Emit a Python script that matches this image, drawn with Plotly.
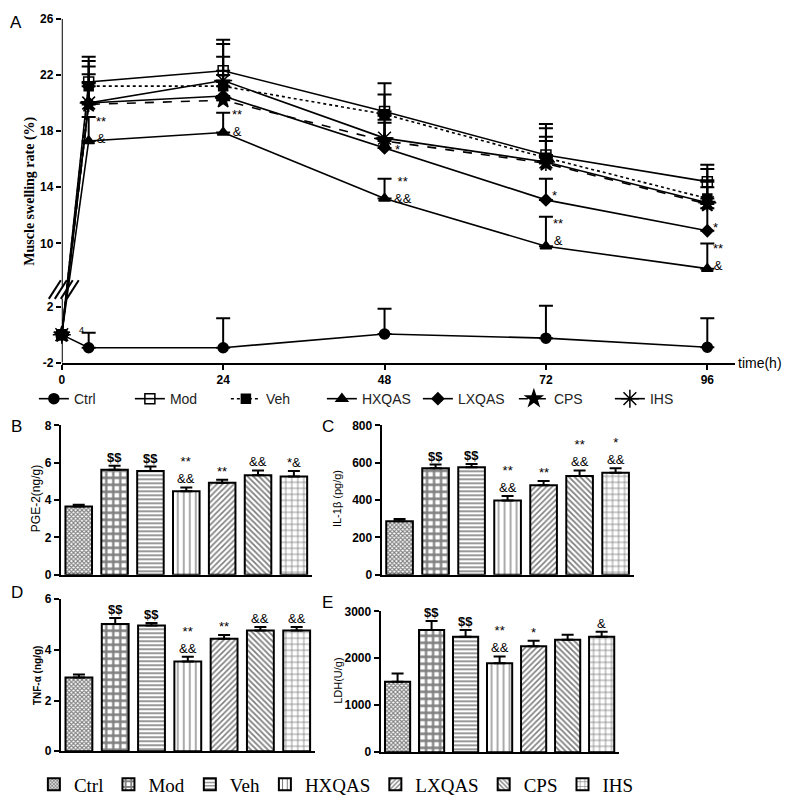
import plotly.graph_objects as go

W, H = 792, 807
def px(x): return x / W
def py(y): return 1 - y / H

# ---------------- Panel A data ----------------
times = [0, 4, 24, 48, 72, 96]
series_names = ["Ctrl", "Mod", "Veh", "HXQAS", "LXQAS", "CPS", "IHS"]
ctrl_a = [0, -0.93, -0.93, 0.05, -0.25, -0.9]
ctrl_a_err = [0, 1.06, 2.1, 1.8, 2.3, 2.06]
mod_a = [0, 21.5, 22.3, 19.4, 16.3, 14.4]
mod_a_err = [0, 1.8, 2.2, 2.0, 2.2, 1.2]
veh_a = [0, 21.2, 21.2, 19.2, 16.1, 13.2]
veh_a_err = [0, 1.8, 3.0, 1.4, 2.1, 2.1]
hx_a = [0, 17.3, 17.9, 13.2, 9.8, 8.2]
hx_a_err = [0, 1.7, 1.4, 1.4, 2.1, 1.8]
lx_a = [0, 20.0, 20.5, 16.8, 13.1, 10.9]
lx_a_err = [0, 2.05, 1.5, 1.8, 1.5, 1.6]
cps_a = [0, 19.9, 20.2, 17.3, 15.7, 12.8]
cps_a_err = [0, 1.5, 1.3, 1.5, 1.6, 1.2]
ihs_a = [0, 20.0, 21.6, 17.5, 15.8, 12.9]
ihs_a_err = [0, 2.6, 1.7, 1.6, 1.8, 1.6]
a_values = [ctrl_a, mod_a, veh_a, hx_a, lx_a, cps_a, ihs_a]
a_errors = [ctrl_a_err, mod_a_err, veh_a_err, hx_a_err, lx_a_err, cps_a_err, ihs_a_err]

# significance marks in panel A
a_sig_series = ["HXQAS", "HXQAS", "HXQAS", "LXQAS", "HXQAS", "LXQAS", "HXQAS", "LXQAS"]
a_sig_time = [4, 24, 48, 48, 72, 72, 96, 96]
a_sig_text = ["**<br>&", "**<br>&", "**<br>&&", "*", "**<br>&", "*", "**<br>&", "*"]
a_ticks_upper = [10, 14, 18, 22, 26]
a_ticks_lower = [-2, 2]

# ---------------- Bar panels data ----------------
groups = ["Ctrl", "Mod", "Veh", "HXQAS", "LXQAS", "CPS", "IHS"]
pge2 = [3.65, 5.62, 5.55, 4.47, 4.93, 5.32, 5.26]
pge2_err = [0.1, 0.21, 0.24, 0.2, 0.16, 0.26, 0.29]
il1b = [286, 570, 576, 397, 479, 528, 546]
il1b_err = [12, 20, 17, 24, 23, 30, 24]
tnf = [2.91, 5.02, 4.96, 3.54, 4.44, 4.77, 4.77]
tnf_err = [0.12, 0.24, 0.1, 0.19, 0.15, 0.13, 0.13]
ldh = [1500, 2600, 2459, 1893, 2256, 2396, 2459]
ldh_err = [176, 195, 141, 147, 119, 105, 105]
b_sig = ["", "$$", "$$", "**<br>&&", "**", "&&", "*&"]
c_sig = ["", "$$", "$$", "**<br>&&", "**", "**<br>&&", "*<br>&&"]
d_sig = ["", "$$", "$$", "**<br>&&", "**", "&&", "&&"]
e_sig = ["", "$$", "$$", "**<br>&&", "*", "", "&"]

# ---------------- styles ----------------
BREAK_SHIFT = 3.5
def disp(v):
    return v if v < 5 else v - BREAK_SHIFT

line_styles = {
    "Ctrl": dict(symbol="circle", size=10, dash="solid"),
    "Mod": dict(symbol="square-open", size=10, dash="solid"),
    "Veh": dict(symbol="square", size=9, dash="dot"),
    "HXQAS": dict(symbol="triangle-up", size=10, dash="solid"),
    "LXQAS": dict(symbol="diamond", size=9, dash="solid"),
    "CPS": dict(symbol="star", size=12, dash="dash"),
    "IHS": dict(symbol="asterisk-open", size=15, dash="solid"),
}
patterns = {
    "Ctrl": dict(shape="x", size=3, solidity=0.6),
    "Mod": dict(shape="+", size=7, solidity=0.55),
    "Veh": dict(shape="-", size=4, solidity=0.4),
    "HXQAS": dict(shape="|", size=6, solidity=0.22),
    "LXQAS": dict(shape="/", size=4, solidity=0.4),
    "CPS": dict(shape="\\", size=4, solidity=0.45),
    "IHS": dict(shape="+", size=6, solidity=0.25),
}

fig = go.Figure()

# ---------------- Panel A traces ----------------
for name, vals, errs in zip(series_names, a_values, a_errors):
    st = line_styles[name]
    fig.add_trace(go.Scatter(
        x=times, y=[disp(v) for v in vals],
        mode="lines+markers", name=name,
        line=dict(color="black", width=1.6, dash=st["dash"]),
        marker=dict(symbol=st["symbol"], size=st["size"], color="black",
                    line=dict(color="black", width=1.5)),
        error_y=dict(type="data", symmetric=False, array=errs,
                     arrayminus=[0] * len(errs), color="black", thickness=2, width=7),
        cliponaxis=False, xaxis="x", yaxis="y", legend="legend",
    ))

sig_offsets = [(0.8, 0.8), (1.0, 0.7), (1.1, 0.6), (1.3, -0.1),
               (0.8, 1.0), (0.6, 0.3), (0.6, 0.8), (0.5, 0.2)]
for s, t, txt, (dx, dy) in zip(a_sig_series, a_sig_time, a_sig_text, sig_offsets):
    v = a_values[series_names.index(s)][times.index(t)]
    fig.add_annotation(x=t + dx, y=disp(v) + dy, xref="x", yref="y", text=txt,
                       showarrow=False, xanchor="left", yanchor="middle",
                       font=dict(family="Arial", size=13, color="black"))

fig.add_annotation(x=3, y=0.35, xref="x", yref="y", text="4", showarrow=False,
                   font=dict(family="Arial", size=9, color="black"))

# broken y-axis lines
fig.add_shape(type="line", xref="x", yref="y", x0=0, x1=0, y0=-2, y1=2.55,
              line=dict(color="black", width=2))
fig.add_shape(type="line", xref="x", yref="y", x0=0, x1=0, y0=3.3, y1=disp(26),
              line=dict(color="black", width=2))
for i in range(4):
    fig.add_shape(type="line", xref="paper", yref="paper",
                  x0=px(46 + 6 * i), y0=py(297), x1=px(58 + 6 * i), y1=py(278),
                  line=dict(color="black", width=2))

# ---------------- Bar panels ----------------
panels = [
    ("x2", "y2", pge2, pge2_err, b_sig, True),
    ("x3", "y3", il1b, il1b_err, c_sig, False),
    ("x4", "y4", tnf, tnf_err, d_sig, False),
    ("x5", "y5", ldh, ldh_err, e_sig, False),
]
for xa, ya, vals, errs, sigs, show in panels:
    for g, v, e, s in zip(groups, vals, errs, sigs):
        p = patterns[g]
        fig.add_trace(go.Bar(
            x=[g], y=[v], name=g, width=0.74,
            marker=dict(color="white", line=dict(color="black", width=2),
                        pattern=dict(shape=p["shape"], size=p["size"], solidity=p["solidity"],
                                     fgcolor="black", bgcolor="white", fillmode="overlay")),
            error_y=dict(type="data", symmetric=False, array=[e], arrayminus=[0],
                         color="black", thickness=2, width=6),
            xaxis=xa, yaxis=ya, showlegend=show, legend="legend2",
        ))
        if s:
            txt = "<b>" + s + "</b>" if "$" in s else s
            fig.add_annotation(x=g, y=v + e, xref=xa, yref=ya, text=txt, showarrow=False,
                               yanchor="bottom", yshift=-1,
                               font=dict(family="Arial", size=13, color="black"))

# ---------------- axes ----------------
tick_font = dict(family="Arial", size=12, color="black", weight="bold")
fig.update_layout(
    width=W, height=H, margin=dict(l=0, r=0, t=0, b=0),
    paper_bgcolor="white", plot_bgcolor="white",
    barmode="overlay", showlegend=True,
    xaxis=dict(domain=[px(59), px(735)], range=[0, 100.15], tickvals=[0, 24, 48, 72, 96],
               showline=True, linecolor="black", linewidth=2, ticks="outside",
               ticklen=5, tickwidth=2, tickcolor="black", tickfont=tick_font,
               showgrid=False, zeroline=False, anchor="y"),
    yaxis=dict(domain=[py(362), py(12)], range=[-2, disp(26)],
               tickvals=[disp(v) for v in a_ticks_lower + a_ticks_upper],
               ticktext=[str(v) for v in a_ticks_lower + a_ticks_upper],
               showline=False, ticks="outside", ticklen=5, tickwidth=2, tickcolor="black",
               tickfont=tick_font, showgrid=False, zeroline=False, anchor="x"),
)

bar_axes = {
    "2": dict(xd=(58, 310), yd=(425.7, 577.7), rng=[0, 8], dt=2),
    "3": dict(xd=(380, 633), yd=(425.7, 577.7), rng=[0, 800], dt=200),
    "4": dict(xd=(58, 313), yd=(602.7, 757.3), rng=[0, 6], dt=2),
    "5": dict(xd=(379, 618), yd=(615, 758.3), rng=[0, 3000], dt=1000),
}
for k, a in bar_axes.items():
    fig.update_layout(**{
        "xaxis" + k: dict(domain=[px(a["xd"][0]), px(a["xd"][1])], type="category",
                          categoryorder="array", categoryarray=groups, range=[-0.5, 6.5],
                          showticklabels=False, ticks="", showline=True, linecolor="black",
                          linewidth=2, showgrid=False, zeroline=False, anchor="y" + k),
        "yaxis" + k: dict(domain=[py(a["yd"][1]), py(a["yd"][0])], range=a["rng"], dtick=a["dt"],
                          showline=True, linecolor="black", linewidth=2, ticks="outside",
                          ticklen=5, tickwidth=2, tickcolor="black", tickfont=tick_font,
                          showgrid=False, zeroline=False, anchor="x" + k),
    })

# ---------------- legends ----------------
fig.update_layout(
    legend=dict(orientation="h", x=px(31), y=py(399), xanchor="left", yanchor="middle",
                font=dict(family="Arial", size=14, color="#222"),
                bgcolor="rgba(0,0,0,0)", entrywidth=51, entrywidthmode="pixels",
                itemsizing="trace"),
    legend2=dict(orientation="h", x=px(31), y=py(791), xanchor="left", yanchor="middle",
                 font=dict(family="Liberation Serif", size=19, color="black"),
                 bgcolor="rgba(0,0,0,0)"),
)

# ---------------- texts ----------------
def label(text, x, y, size=17, anchor="center", angle=0, family="Arial"):
    fig.add_annotation(x=px(x), y=py(y), xref="paper", yref="paper", text=text,
                       showarrow=False, xanchor=anchor, yanchor="middle", textangle=angle,
                       font=dict(family=family, size=size, color="black"))

label("A", 13, 16)
label("B", 14, 427)
label("C", 326, 427)
label("D", 14, 596)
label("E", 326, 606)
label("time(h)", 736, 362, size=14, anchor="left")

label("<b>Muscle swelling rate (%)</b>", 27, 187, size=14, angle=-90, family="Liberation Serif")
label("PGE-2(ng/g)", 33, 500, size=12, angle=-90)
label("IL-1β (pg/g)", 336, 500, size=11, angle=-90)
label("<b>TNF-α (ng/g)</b>", 34, 680, size=10, angle=-90)
label("LDH(U/g)", 336, 686, size=11, angle=-90)

fig.write_html("out.html", config={"displayModeBar": False},
               post_script="document.body.style.margin='0';document.body.style.overflow='hidden';")
